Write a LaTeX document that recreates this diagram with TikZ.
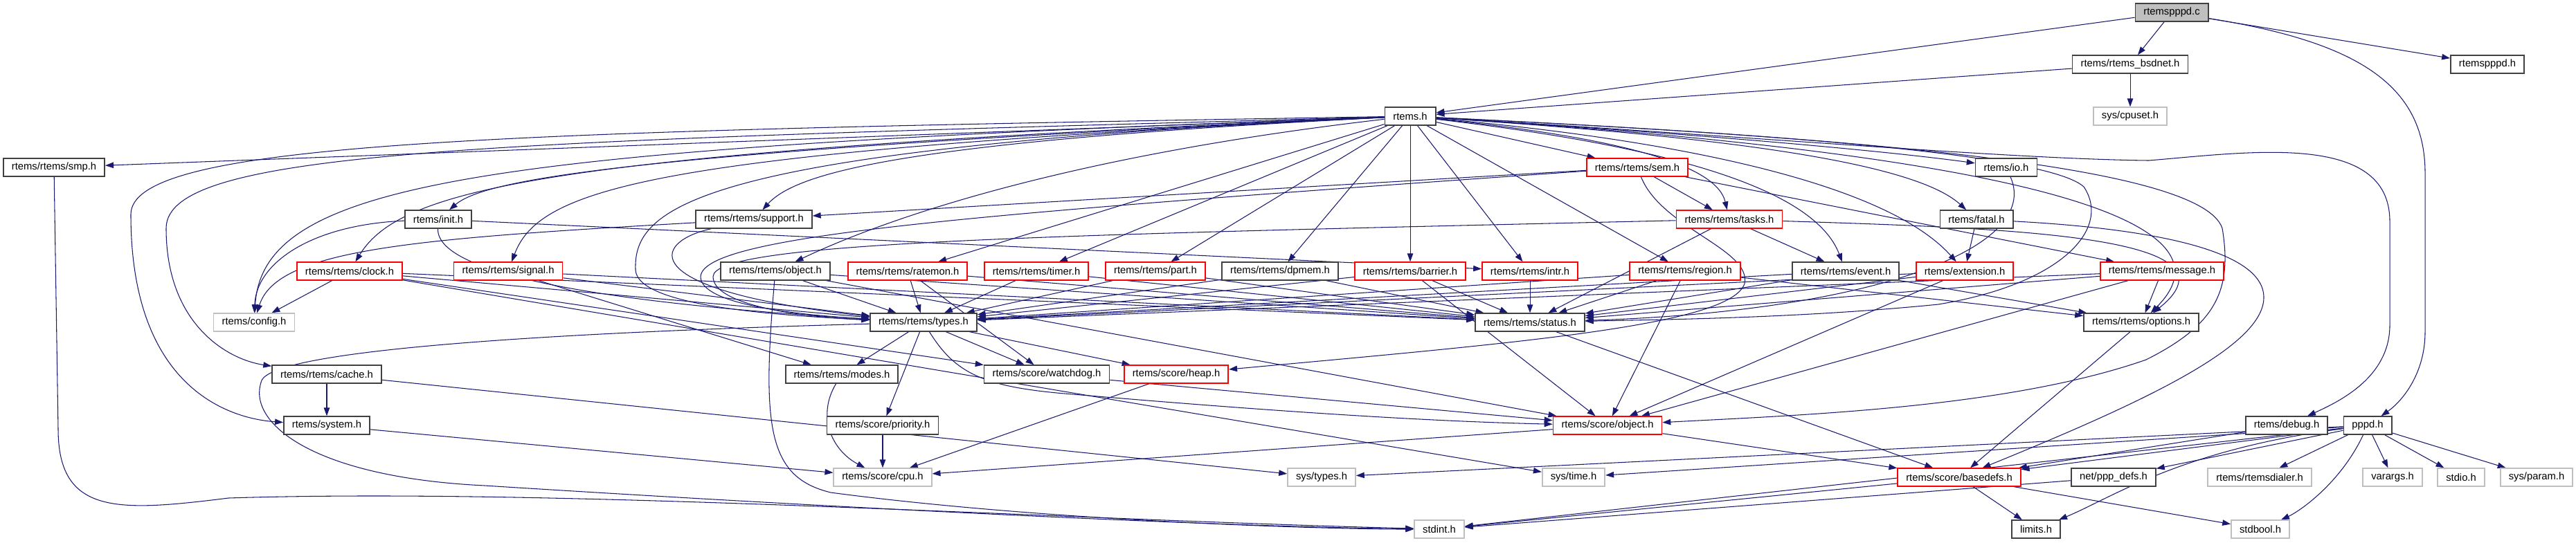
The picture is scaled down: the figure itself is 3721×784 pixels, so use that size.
\documentclass[tikz,border=0pt]{standalone}
\usepackage{fontspec}
\setmainfont{Liberation Sans}
\usetikzlibrary{arrows.meta,backgrounds}
\definecolor{edgeblue}{RGB}{25,25,112}
\definecolor{boxgrey}{RGB}{64,64,64}
\definecolor{extgrey}{RGB}{191,191,191}
\tikzset{
  hdr/.style={draw=boxgrey,fill=white,line width=0.5pt,minimum height=0.255cm,inner xsep=0.12cm,inner ysep=0pt,font=\fontsize{4.2}{5}\selectfont},
  syshdr/.style={hdr,draw=extgrey},
  cuthdr/.style={hdr,draw=red},
  srchdr/.style={hdr,fill=extgrey},
  incl/.style={draw=edgeblue,line width=0.3pt,-{Triangle[length=3.4pt,width=2.4pt]}}
}
\begin{document}
\begin{tikzpicture}[x=0.01cm,y=-0.01cm]
\useasboundingbox (0,0) rectangle (3721,784);

\node[srchdr] (root) at (3137,18) {rtemspppd.c};
\node[hdr] (bsdnet) at (3077,93) {rtems/rtems\_bsdnet.h};
\node[hdr] (ppph) at (3593,93) {rtemspppd.h};
\node[hdr] (rtems) at (2037,168) {rtems.h};
\node[syshdr] (cpuset) at (3077,168) {sys/cpuset.h};
\node[hdr] (smp) at (78,242) {rtems/rtems/smp.h};
\node[cuthdr] (sem) at (2365,242) {rtems/rtems/sem.h};
\node[hdr] (io) at (2898,242) {rtems/io.h};
\node[hdr] (init) at (633,317) {rtems/init.h};
\node[hdr] (support) at (1089,317) {rtems/rtems/support.h};
\node[cuthdr] (tasks) at (2498,317) {rtems/rtems/tasks.h};
\node[hdr] (fatal) at (2855,317) {rtems/fatal.h};
\node[cuthdr] (clock) at (505,392) {rtems/rtems/clock.h};
\node[cuthdr] (signal) at (734,392) {rtems/rtems/signal.h};
\node[hdr] (object) at (1120,392) {rtems/rtems/object.h};
\node[cuthdr] (ratemon) at (1311,392) {rtems/rtems/ratemon.h};
\node[cuthdr] (timer) at (1497,392) {rtems/rtems/timer.h};
\node[cuthdr] (part) at (1669,392) {rtems/rtems/part.h};
\node[hdr] (dpmem) at (1849,392) {rtems/rtems/dpmem.h};
\node[cuthdr] (barrier) at (2037,392) {rtems/rtems/barrier.h};
\node[cuthdr] (intr) at (2210,392) {rtems/rtems/intr.h};
\node[cuthdr] (region) at (2434,392) {rtems/rtems/region.h};
\node[hdr] (event) at (2666,392) {rtems/rtems/event.h};
\node[cuthdr] (extension) at (2838,392) {rtems/extension.h};
\node[cuthdr] (message) at (3123,392) {rtems/rtems/message.h};
\node[syshdr] (config) at (367,466) {rtems/config.h};
\node[hdr] (types) at (1334,466) {rtems/rtems/types.h};
\node[hdr] (status) at (2210,466) {rtems/rtems/status.h};
\node[hdr] (options) at (3093,466) {rtems/rtems/options.h};
\node[hdr] (cache) at (472,541) {rtems/rtems/cache.h};
\node[hdr] (modes) at (1216,541) {rtems/rtems/modes.h};
\node[hdr] (watchdog) at (1512,541) {rtems/score/watchdog.h};
\node[cuthdr] (heap) at (1699,541) {rtems/score/heap.h};
\node[hdr] (system) at (472,615) {rtems/system.h};
\node[hdr] (priority) at (1275,615) {rtems/score/priority.h};
\node[cuthdr] (sobject) at (2322,615) {rtems/score/object.h};
\node[hdr] (debug) at (3303,615) {rtems/debug.h};
\node[hdr] (pppd) at (3420,615) {pppd.h};
\node[syshdr] (cpu) at (1275,690) {rtems/score/cpu.h};
\node[syshdr] (systypes) at (1909,690) {sys/types.h};
\node[syshdr] (systime) at (2273,690) {sys/time.h};
\node[cuthdr] (basedefs) at (2830,690) {rtems/score/basedefs.h};
\node[hdr] (pppdefs) at (3053,690) {net/ppp\_defs.h};
\node[syshdr] (dialer) at (3264,690) {rtems/rtemsdialer.h};
\node[syshdr] (varargs) at (3456,690) {varargs.h};
\node[syshdr] (stdio) at (3555,690) {stdio.h};
\node[syshdr] (param) at (3664,690) {sys/param.h};
\node[syshdr] (stdint) at (2079,765) {stdint.h};
\node[hdr] (limits) at (2941,765) {limits.h};
\node[syshdr] (stdbool) at (3265,765) {stdbool.h};

\begin{pgfonlayer}{background}
\foreach \a/\b in {root/bsdnet,root/ppph,root/rtems,bsdnet/rtems,bsdnet/cpuset,
  rtems/smp,rtems/sem,rtems/ratemon,rtems/timer,rtems/part,rtems/dpmem,rtems/barrier,rtems/intr,rtems/region,
  sem/support,sem/tasks,sem/message,tasks/event,tasks/status,fatal/extension,
  init/intr,clock/config,clock/types,clock/status,clock/watchdog,clock/systime,
  signal/types,signal/status,signal/modes,object/types,object/status,object/sobject,
  ratemon/types,ratemon/status,ratemon/watchdog,timer/types,timer/status,part/types,part/status,
  dpmem/types,dpmem/status,barrier/types,barrier/status,barrier/sobject,intr/status,
  region/types,region/status,region/sobject,region/options,event/types,event/status,event/options,
  extension/types,extension/status,extension/sobject,message/types,message/status,message/options,message/sobject,
  types/modes,types/watchdog,types/heap,types/priority,cache/system,cache/systypes,system/cpu,watchdog/sobject,
  priority/cpu,heap/cpu,sobject/cpu,status/basedefs,options/basedefs,sobject/basedefs,debug/basedefs,
  pppd/basedefs,pppd/pppdefs,pppd/dialer,pppd/varargs,pppd/stdio,pppd/param,pppd/systypes,pppd/systime,pppd/stdint,
  pppdefs/stdint,basedefs/stdint,basedefs/limits,basedefs/stdbool}
  \draw[incl] (\a) -- (\b);

\draw[incl] (root) .. controls (3400,60) and (3503,120) .. (3503,250) -- (3503,480) .. controls (3503,540) and (3470,580) .. (pppd);
\draw[incl] (rtems) .. controls (2500,195) and (2900,230) .. (3104,232) .. controls (3250,220) and (3452,190) .. (3452,320) -- (3452,470) .. controls (3452,545) and (3380,580) .. (debug);
\draw[incl] (rtems) .. controls (2600,195) and (2960,225) .. (3010,270) .. controls (3050,330) and (2980,410) .. (2800,440) .. controls (2600,460) and (2400,462) .. (status);
\draw[incl] (rtems) .. controls (2700,200) and (3180,240) .. (3210,330) .. controls (3225,420) and (3200,470) .. (3100,520) .. controls (2900,590) and (2600,600) .. (sobject);
\draw[incl] (fatal) .. controls (3100,330) and (3270,360) .. (3270,430) .. controls (3270,500) and (3100,580) .. (basedefs);
\draw[incl] (tasks) .. controls (2900,330) and (3250,340) .. (options);
\draw[incl] (rtems) .. controls (2800,215) and (3260,300) .. (options);
\draw[incl] (io) .. controls (2950,360) and (2700,450) .. (status);
\draw[incl] (rtems) .. controls (2400,190) and (2700,215) .. (io);
\draw[incl] (rtems) .. controls (2450,195) and (2760,230) .. (fatal);
\draw[incl] (rtems) .. controls (2400,200) and (2720,260) .. (extension);
\draw[incl] (rtems) .. controls (2400,210) and (2620,270) .. (event);
\draw[incl] (rtems) .. controls (2350,200) and (2480,240) .. (tasks);
\draw[incl] (rtems) .. controls (700,205) and (240,215) .. (240,330) .. controls (240,470) and (330,520) .. (cache);
\draw[incl] (rtems) .. controls (700,190) and (189,205) .. (189,310) .. controls (189,560) and (330,605) .. (system);
\draw[incl] (rtems) .. controls (700,215) and (380,260) .. (config);
\draw[incl] (rtems) .. controls (800,220) and (580,270) .. (clock);
\draw[incl] (rtems) .. controls (900,220) and (700,260) .. (init);
\draw[incl] (rtems) .. controls (950,220) and (780,270) .. (signal);
\draw[incl] (rtems) .. controls (1300,205) and (1150,250) .. (support);
\draw[incl] (rtems) .. controls (1500,230) and (1250,330) .. (object);
\draw[incl] (rtems) .. controls (1000,215) and (915,300) .. (918,390) .. controls (920,440) and (1100,455) .. (types);
\draw[incl] (support) .. controls (940,350) and (915,420) .. (types);
\draw[incl] (sem) .. controls (1400,310) and (1015,340) .. (1012,400) .. controls (1012,440) and (1150,455) .. (types);
\draw[incl] (tasks) .. controls (1500,340) and (1030,350) .. (1030,400) .. controls (1030,440) and (1150,458) .. (types);
\draw[incl] (init) .. controls (630,400) and (900,440) .. (types);
\draw[incl] (init) .. controls (450,325) and (370,380) .. (config);
\draw[incl] (support) .. controls (600,345) and (400,360) .. (config);
\draw[incl] (smp) -- (84,620) .. controls (84,745) and (170,740) .. (330,720) .. controls (800,705) and (1500,750) .. (stdint);
\draw[incl] (types) .. controls (900,478) and (400,500) .. (378,550) .. controls (355,610) and (450,690) .. (700,702) .. controls (1300,740) and (1800,762) .. (stdint);
\draw[incl] (object) .. controls (1100,620) and (1110,690) .. (1200,712) .. controls (1500,752) and (1900,765) .. (stdint);
\draw[incl] (types) .. controls (1380,540) and (1420,560) .. (1550,570) .. controls (1900,600) and (2100,610) .. (sobject);
\draw[incl] (sem) .. controls (2400,330) and (2530,360) .. (2520,410) .. controls (2500,470) and (2200,495) .. (heap);
\draw[incl] (pppd) .. controls (3150,650) and (3050,720) .. (limits);
\draw[incl] (pppd) .. controls (3380,700) and (3320,740) .. (stdbool);
\draw[incl] (modes) .. controls (1180,600) and (1200,650) .. (cpu);
\end{pgfonlayer}
\end{tikzpicture}
\end{document}
